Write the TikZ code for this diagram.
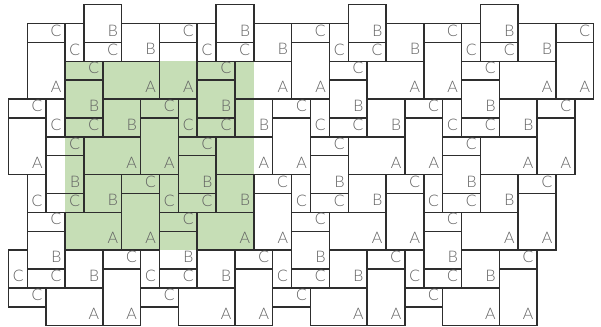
\documentclass[tikz,border=0pt]{standalone}
\usepackage{fontspec}
\setmainfont{Lato}[UprightFont=* Light]
\definecolor{patchgreen}{RGB}{198,222,182}

% one tile: name, left, top, width, height, letter
\newcommand{\tile}[6]{%
  \draw[tileline] (#2,#3) rectangle ++(#4,#5);
  \node[tilelabel] (#1) at ({#2+#4-0.18},{#3+#5-0.95}) {#6};}

\begin{document}
\begin{tikzpicture}[x=5mm, y=-5mm,
  tileline/.style={draw=black!82, line width=1.1pt},
  tilelabel/.style={anchor=north east, inner sep=0pt, text=black!62, font=\fontsize{12}{12}\selectfont}]
  \useasboundingbox (-0.445,-0.249) rectangle (31.387,17.02);
  \fill[patchgreen] (3,3) rectangle (13,13);
  % left edge pieces
  \tile{cC-e0}{1}{1}{2}{1}{C}
  \tile{aV-e0}{1}{2}{2}{3}{A}
  \tile{cC-e1}{0}{5}{2}{1}{C}
  \tile{aV-e1}{0}{6}{2}{3}{A}
  \foreach \m in {0,...,3}{
    \foreach \n in {0,...,3}{
      \pgfmathtruncatemacro{\dx}{7*\m-\n}
      \pgfmathtruncatemacro{\dy}{4*\n}
      \tile{bA-\m-\n}{\dx+4}{\dy}{2}{2}{B}
      \tile{bB-\m-\n}{\dx+6}{\dy+1}{2}{2}{B}
      \tile{cV-\m-\n}{\dx+3}{\dy+1}{1}{2}{C}
      \tile{cA-\m-\n}{\dx+4}{\dy+2}{2}{1}{C}
      \tile{cB-\m-\n}{\dx+3}{\dy+3}{2}{1}{C}
      \tile{aH-\m-\n}{\dx+5}{\dy+3}{3}{2}{A}
      \tile{cC-\m-\n}{\dx+8}{\dy+1}{2}{1}{C}
      \tile{aV-\m-\n}{\dx+8}{\dy+2}{2}{3}{A}
    }}
\end{tikzpicture}
\end{document}
